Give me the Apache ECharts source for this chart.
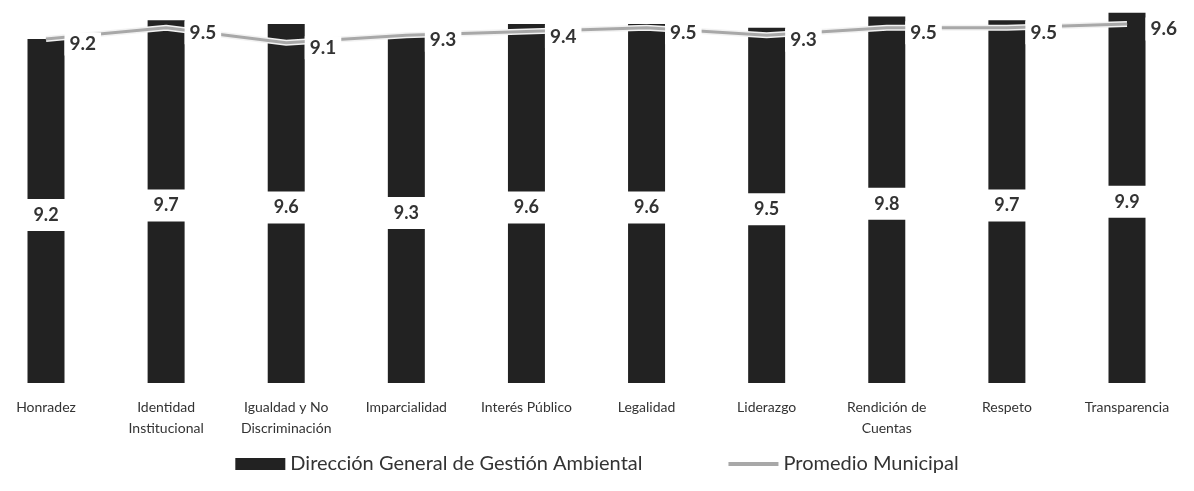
<!DOCTYPE html>
<html>
<head>
<meta charset="utf-8">
<script src="https://cdn.jsdelivr.net/npm/echarts@6/dist/echarts.min.js"></script>
<style>html,body{margin:0;padding:0;background:#fff}#c{width:1194px;height:491px}</style>
</head>
<body>
<div id="c"></div>
<script>
const categories = ['Honradez', 'Identidad\nInstitucional', 'Igualdad y No\nDiscriminación', 'Imparcialidad', 'Interés Público', 'Legalidad', 'Liderazgo', 'Rendición de\nCuentas', 'Respeto', 'Transparencia'];
const direccionValues = [9.2, 9.7, 9.6, 9.3, 9.6, 9.6, 9.5, 9.8, 9.7, 9.9];
const promedioValues = [9.2, 9.5, 9.1, 9.3, 9.4, 9.5, 9.3, 9.5, 9.5, 9.6];
const seriesNames = ['Dirección General de Gestión Ambiental', 'Promedio Municipal'];

const chart = echarts.init(document.getElementById('c'));
const FONT = 'Lato';
chart.setOption({
  animation: false,
  backgroundColor: '#fff',
  textStyle: { fontFamily: FONT },
  grid: { left: 46, right: 67, top: 9, bottom: 108 },
  legend: {
    bottom: 12,
    left: 'center',
    itemWidth: 50,
    itemHeight: 12,
    itemGap: 84,
    textStyle: { fontFamily: FONT, fontSize: 20, color: '#333' },
    data: [
      { name: seriesNames[0], icon: 'rect' },
      { name: seriesNames[1], itemStyle: { opacity: 0 }, lineStyle: { width: 4 } }
    ]
  },
  xAxis: {
    type: 'category',
    data: categories,
    boundaryGap: false,
    axisLine: { show: false },
    axisTick: { show: false },
    axisLabel: { color: '#333', fontSize: 14, lineHeight: 21, margin: 14, fontFamily: FONT, interval: 0 }
  },
  yAxis: {
    type: 'value',
    min: 0,
    max: 10,
    show: false,
    splitLine: { show: false }
  },
  series: [
    {
      name: seriesNames[0],
      type: 'bar',
      data: direccionValues,
      barWidth: 37,
      itemStyle: { color: '#222' },
      label: {
        show: true,
        position: 'inside',
        offset: [0, 4],
        formatter: p => p.value.toFixed(1),
        color: '#333',
        fontWeight: 'bold',
        fontSize: 18,
        fontFamily: FONT,
        backgroundColor: '#fff',
        width: 41,
        align: 'center',
        padding: [7, 0, 7, 0]
      },
      z: 2
    },
    {
      name: seriesNames[1] + ' halo',
      type: 'line',
      data: promedioValues,
      symbol: 'none',
      lineStyle: { color: '#f2f2f2', width: 6 },
      silent: true,
      z: 3
    },
    {
      name: seriesNames[1],
      type: 'line',
      data: promedioValues,
      symbol: 'circle',
      symbolSize: 1,
      itemStyle: { color: '#a8a8a8' },
      lineStyle: { color: '#a8a8a8', width: 3 },
      label: {
        show: true,
        position: 'right',
        distance: 18,
        offset: [0, 5],
        formatter: p => p.value.toFixed(1),
        color: '#333',
        fontWeight: 'bold',
        fontSize: 19,
        fontFamily: FONT,
        backgroundColor: '#fff',
        padding: [2, 5, 2, 5]
      },
      z: 4
    }
  ]
});
</script>
</body>
</html>
